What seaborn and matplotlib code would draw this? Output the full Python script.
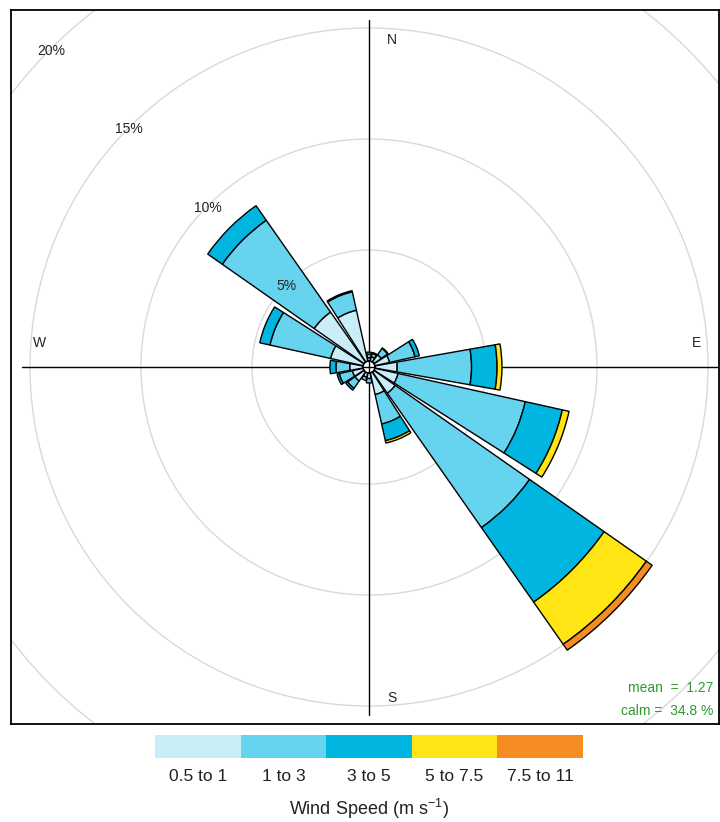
import numpy as np
import pandas as pd
import matplotlib
matplotlib.use("Agg")
import matplotlib.pyplot as plt
from matplotlib.patches import Wedge, Circle
from matplotlib.colors import ListedColormap
import seaborn as sns

# Wind direction sectors (degrees clockwise from north)
directions = ["N", "NNE", "NE", "ENE", "E", "ESE", "SE", "SSE",
              "S", "SSW", "SW", "WSW", "W", "WNW", "NW", "NNW"]
wd = [0.0, 22.5, 45.0, 67.5, 90.0, 112.5, 135.0, 157.5,
      180.0, 202.5, 225.0, 247.5, 270.0, 292.5, 315.0, 337.5]

# Frequency (%) of each wind-speed band per sector
speed_bands = ["0.5 to 1", "1 to 3", "3 to 5", "5 to 7.5", "7.5 to 11"]
freq_05_1 = [0.15, 0.20, 0.40, 0.68, 1.00, 1.07, 1.17, 1.00,
             0.25, 0.20, 0.50, 0.50, 0.60, 1.50, 2.75, 2.35]
freq_1_3 = [0.15, 0.15, 0.35, 1.17, 3.35, 5.87, 7.39, 1.36,
            0.20, 0.15, 0.40, 0.60, 0.62, 2.80, 5.05, 0.85]
freq_3_5 = [0.10, 0.05, 0.03, 0.20, 1.15, 1.71, 4.10, 0.77,
            0.00, 0.00, 0.10, 0.10, 0.27, 0.47, 0.80, 0.05]
freq_5_75 = [0.00, 0.00, 0.00, 0.00, 0.22, 0.31, 2.32, 0.11,
             0.00, 0.00, 0.00, 0.00, 0.00, 0.00, 0.00, 0.00]
freq_75_11 = [0.00, 0.00, 0.00, 0.00, 0.00, 0.00, 0.32, 0.00,
              0.00, 0.00, 0.00, 0.00, 0.00, 0.00, 0.00, 0.00]

band_colors = ["#C9EEF8", "#66D4EF", "#00B5E0", "#FFE514", "#F68D22"]
ring_levels = [5, 10, 15, 20]
mean_ws = 1.27
calm_pct = 34.8

df = pd.DataFrame({"direction": directions, "wd": wd,
                   speed_bands[0]: freq_05_1, speed_bands[1]: freq_1_3,
                   speed_bands[2]: freq_3_5, speed_bands[3]: freq_5_75,
                   speed_bands[4]: freq_75_11})

sns.set_theme(style="white")
plt.rcParams["font.family"] = ["Liberation Sans", "DejaVu Sans"]
plt.rcParams["mathtext.fontset"] = "custom"
plt.rcParams["mathtext.rm"] = "Liberation Sans"
plt.rcParams["mathtext.default"] = "regular"

W, H = 720, 822
fig = plt.figure(figsize=(W / 100, H / 100), dpi=100)

# main panel (pixel box converted to figure fractions)
px_left, px_right, px_top, px_bottom = 11, 719, 10, 724
ax = fig.add_axes([px_left / W, 1 - px_bottom / H,
                   (px_right - px_left) / W, (px_bottom - px_top) / H])
cx, cy, scale = 369, 367, 22.2   # centre pixel and pixels per percent
ax.set_xlim((px_left - cx) / scale, (px_right - cx) / scale)
ax.set_ylim(-(px_bottom - cy) / scale, (cy - px_top) / scale)
ax.set_xticks([])
ax.set_yticks([])
for s in ax.spines.values():
    s.set_visible(True)
    s.set_color("black")
    s.set_linewidth(1.3)

offset = 0.27      # radius of the calm circle, in percent units
half_width = 10.0  # half angular width of a petal, degrees

# grid rings
for lev in ring_levels:
    ax.add_patch(Circle((0, 0), offset + lev, fill=False,
                        edgecolor="#D9D9D9", lw=1.0, zorder=1))

# compass cross
ax.plot([0, 0], [15.63, -15.68], color="black", lw=1.0, zorder=2)
ax.plot([-15.63, 15.72], [0, 0], color="black", lw=1.0, zorder=2)

# stacked petals
for _, row in df.iterrows():
    inner = offset
    for band, col in zip(speed_bands, band_colors):
        val = row[band]
        if val <= 0:
            continue
        outer = inner + val
        theta_c = 90.0 - row["wd"]
        ax.add_patch(Wedge((0, 0), outer, theta_c - half_width,
                           theta_c + half_width, width=outer - inner,
                           facecolor=col, edgecolor="black", lw=1.0,
                           zorder=3))
        inner = outer

ax.add_patch(Circle((0, 0), offset, fill=False, edgecolor="black",
                    lw=1.0, zorder=4))

# ring labels along the north-west diagonal
for lev in ring_levels:
    r = offset + lev
    ax.text(-r * np.sin(np.pi / 4), r * np.cos(np.pi / 4) - 0.08,
            f"{lev}%", ha="center", va="center", fontsize=10,
            color="#222222", zorder=5)

# compass labels
for lab, x, y in [("N", 1.04, 14.73), ("S", 1.04, -14.91),
                  ("W", -14.82, 1.08), ("E", 14.77, 1.08)]:
    ax.text(x, y, lab, ha="center", va="center", fontsize=10,
            color="#222222", zorder=5)

# summary statistics
ax.text(0.992, 0.050, f"mean  =  {mean_ws:.2f}", transform=ax.transAxes,
        ha="right", va="center", fontsize=10, color="#2E9A2E")
ax.text(0.992, 0.018, f"calm =  {calm_pct:.1f} %", transform=ax.transAxes,
        ha="right", va="center", fontsize=10, color="#2E9A2E")

# colour key
kx0, kx1, ky0, ky1 = 155, 583, 735, 758
kax = fig.add_axes([kx0 / W, 1 - ky1 / H, (kx1 - kx0) / W, (ky1 - ky0) / H])
sns.heatmap(np.arange(len(speed_bands)).reshape(1, -1), ax=kax,
            cmap=ListedColormap(band_colors), cbar=False,
            xticklabels=False, yticklabels=False)
kax.set_xticks(np.arange(len(speed_bands)) + 0.5)
kax.set_xticklabels(speed_bands, fontsize=12.5, color="#222222")
kax.tick_params(axis="x", length=0, pad=8)
kax.set_yticks([])
kax.set_xlabel(r"Wind Speed (m s$^{-1}$)", fontsize=13, color="#222222",
               labelpad=9)

fig.savefig("out.png", dpi=100)
